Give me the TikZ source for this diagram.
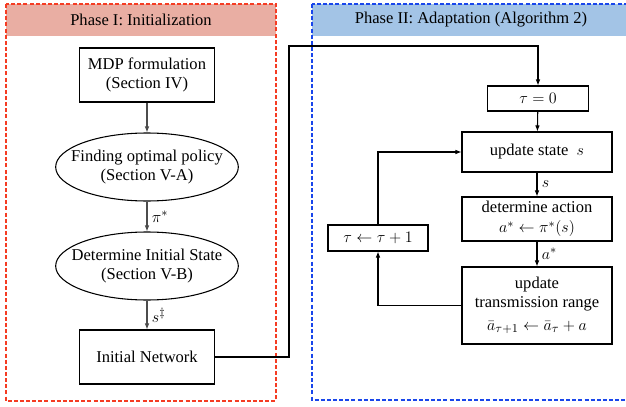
\documentclass[tikz,border=0pt]{standalone}
\usepackage{fontspec}
\setmainfont{Liberation Serif}
\usepackage{amssymb}
\usepackage{amsmath}
\usetikzlibrary{arrows.meta,backgrounds,calc,positioning,fit,shapes.geometric}
\definecolor{rotkopf}{RGB}{233,174,163}
\definecolor{blaukopf}{RGB}{163,196,230}
\definecolor{rotrand}{RGB}{245,60,35}
\definecolor{blaurand}{RGB}{25,70,235}

\begin{document}
\begin{tikzpicture}[x=0.75pt,y=-0.75pt,
  kasten/.style={draw,thick,minimum width=101.25pt,align=center,font=\fontsize{12.4}{14.3}\selectfont},
  oval/.style={draw,thick,ellipse,minimum width=137pt,minimum height=51pt,inner xsep=-8.5pt,inner ysep=0pt,align=center,font=\fontsize{12.4}{14.3}\selectfont},
  pfeil/.style={thick,-{Latex[length=4.5pt,width=3.5pt]}},
  phase/.style={dash pattern=on 3pt off 1.6pt,line width=1.3pt}]
\useasboundingbox (0,0) rectangle (626,407);
\pgfmathsetmacro{\links}{147}
\pgfmathsetmacro{\rechts}{537}
% Phase I
\fill[rotkopf] (6,4) rectangle (276,36);
\draw[phase,rotrand] (6,4) rectangle (276,401);
\node[font=\fontsize{12.4}{14.3}\selectfont] (kopfI) at (141,20) {Phase I: Initialization};
% Phase II
\fill[blaukopf] (312,4) rectangle (632,36);
\draw[phase,blaurand] (312,4) rectangle (632,400);
\node[font=\fontsize{12.4}{14.3}\selectfont] (kopfII) at (471,20) {Phase II: Adaptation (Algorithm 2)};

\node[kasten,minimum height=40.5pt] (mdp) at (\links,75) {MDP formulation\\(Section IV)};
\node[oval] (policy) at (\links,167) {Finding optimal policy\\(Section V-A)};
\node[oval] (init) at (\links,266) {Determine Initial State\\(Section V-B)};
\node[kasten,minimum height=40.5pt] (net) at (\links,357) {Initial Network};

\node[kasten,minimum width=75.75pt,minimum height=18.75pt] (tau0) at (538,98.5) {$\tau=0$};
\node[kasten,minimum width=112.5pt,minimum height=30pt] (upd) at (\rechts,152) {update state~~$s$};
\node[kasten,minimum width=112.5pt,minimum height=33pt,inner sep=1pt] (act) at (\rechts,219) {determine action\\[1pt]$a^*\leftarrow\pi^*(s)$};
\node[kasten,minimum width=112.5pt,minimum height=57.75pt,inner sep=1pt] (range) at (\rechts,305.5) {update\\transmission range\\[3pt]$\bar{a}_{\tau+1}\leftarrow\bar{a}_{\tau}+a$};
\node[kasten,minimum width=75pt,minimum height=19.5pt] (inc) at (378,238) {$\tau\leftarrow\tau+1$};
\coordinate (knick) at (289,46);

\draw[pfeil,black!70] (mdp) -- (policy);
\draw[pfeil,black!70] (policy) -- node[right,black,font=\fontsize{12.4}{14.3}\selectfont] {$\pi^*$} (init);
\draw[pfeil,black!70] (init) -- node[right,black,font=\fontsize{12.4}{14.3}\selectfont] {$s^\ddagger$} (net);
\draw[pfeil] (net.east) -| (knick) -| (tau0.north);
\draw[pfeil] (tau0) -- (upd);
\draw[pfeil] (upd) -- node[right,font=\fontsize{12.4}{14.3}\selectfont] {$s$} (act);
\draw[pfeil] (act) -- node[right,font=\fontsize{12.4}{14.3}\selectfont] {$a^*$} (range);
\draw[pfeil] (range.west) -| (inc.south);
\draw[pfeil] (inc.north) |- (upd.west);
\end{tikzpicture}
\end{document}
